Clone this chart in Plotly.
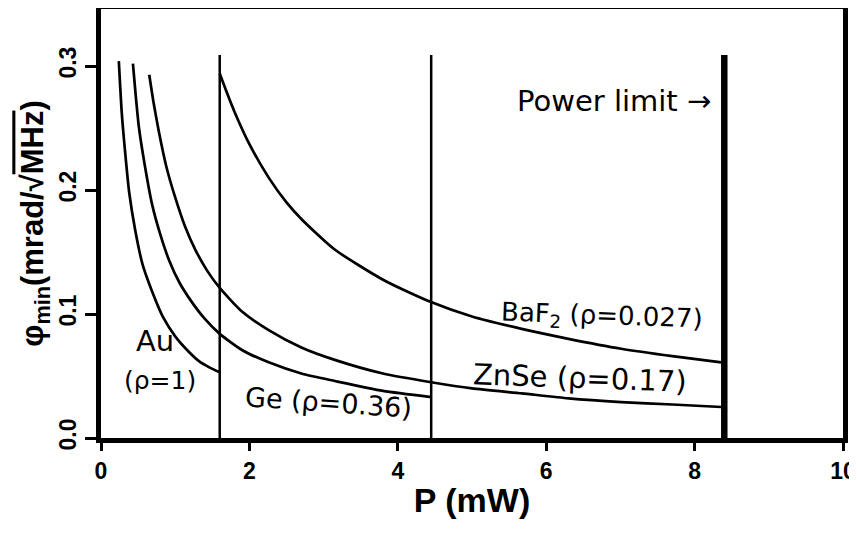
import plotly.graph_objects as go

# ---- data ----
au_x = [0.24, 0.28, 0.32, 0.38, 0.46, 0.56, 0.69, 0.84, 1.00, 1.16, 1.32, 1.46, 1.60]
au_y = [0.304, 0.262, 0.234, 0.198, 0.168, 0.140, 0.118, 0.097, 0.082, 0.071, 0.062, 0.057, 0.053]

ge_x = [0.43, 0.47, 0.51, 0.59, 0.69, 0.80, 0.92, 1.06, 1.22, 1.40, 1.60, 1.90, 2.26, 2.70, 3.15, 3.80, 4.45]
ge_y = [0.302, 0.275, 0.251, 0.220, 0.188, 0.164, 0.143, 0.125, 0.110, 0.096, 0.084, 0.071, 0.061, 0.052, 0.046, 0.038, 0.033]

znse_x = [0.65, 0.71, 0.78, 0.88, 1.00, 1.13, 1.27, 1.43, 1.60, 1.90, 2.26, 2.70, 3.15, 3.80, 4.45, 5.00, 5.67, 6.30, 7.01, 7.70, 8.36]
znse_y = [0.293, 0.270, 0.247, 0.219, 0.194, 0.171, 0.152, 0.135, 0.121, 0.102, 0.087, 0.073, 0.063, 0.052, 0.045, 0.040, 0.036, 0.032, 0.029, 0.027, 0.025]

baf2_x = [1.60, 1.70, 1.80, 2.00, 2.26, 2.50, 2.71, 3.15, 3.82, 4.43, 5.00, 5.67, 6.30, 7.01, 7.70, 8.36]
baf2_y = [0.294, 0.278, 0.263, 0.237, 0.210, 0.190, 0.176, 0.152, 0.127, 0.110, 0.098, 0.088, 0.080, 0.072, 0.066, 0.061]

cutoff_x = [1.6, 4.45]
power_limit_x = 8.4
line_top = 0.309

x_ticks = [0, 2, 4, 6, 8, 10]
y_ticks = [0.0, 0.1, 0.2, 0.3]

HAND = "DejaVu Sans"

fig = go.Figure()
for xs, ys in [(au_x, au_y), (ge_x, ge_y), (znse_x, znse_y), (baf2_x, baf2_y)]:
    fig.add_trace(go.Scatter(x=xs, y=ys, mode="lines",
                             line=dict(color="black", width=2.7, shape="spline", smoothing=0.6),
                             showlegend=False, hoverinfo="skip"))
for cx in cutoff_x:
    fig.add_trace(go.Scatter(x=[cx, cx], y=[0, line_top], mode="lines",
                             line=dict(color="black", width=2.5), showlegend=False))
fig.add_trace(go.Scatter(x=[power_limit_x, power_limit_x], y=[0, line_top], mode="lines",
                         line=dict(color="black", width=6.5), showlegend=False))

annos = [
    dict(x=0.73, y=0.078, text="Au", size=29),
    dict(x=0.80, y=0.046, text="(ρ=1)", size=25),
    dict(x=3.07, y=0.029, text="Ge (ρ=0.36)", size=27, textangle=4),
    dict(x=6.75, y=0.098, text="BaF<sub>2</sub> (ρ=0.027)", size=26, textangle=2),
    dict(x=6.46, y=0.048, text="ZnSe (ρ=0.17)", size=29, textangle=2),
    dict(x=6.92, y=0.272, text="Power limit →", size=29),
]
for a in annos:
    size = a.pop("size")
    fig.add_annotation(showarrow=False, font=dict(family=HAND, size=size, color="black"),
                       xref="x", yref="y", **a)

fig.update_layout(
    width=857, height=554,
    margin=dict(l=93, r=22, t=1, b=124),
    paper_bgcolor="white", plot_bgcolor="white",
    xaxis=dict(range=[0, 10], tickvals=x_ticks, ticktext=[str(v) for v in x_ticks],
               showgrid=False, zeroline=False, automargin=False,
               showline=True, linecolor="black", linewidth=5, mirror=True,
               ticks="outside", ticklen=8, tickwidth=2.5, tickcolor="black",
               tickfont=dict(family="Liberation Sans", size=23, color="black", weight="bold"),
               title=dict(text="<b>P (mW)</b>", standoff=7,
                          font=dict(family="Liberation Sans", size=34, color="black"))),
    yaxis=dict(range=[0, 0.346], tickvals=y_ticks, ticktext=[f"{v:.1f}" for v in y_ticks],
               showgrid=False, zeroline=False, automargin=False,
               showline=True, linecolor="black", linewidth=5, mirror=True,
               ticks="outside", ticklen=11, tickwidth=2.5, tickcolor="black", tickangle=-90,
               tickfont=dict(family="Liberation Sans", size=23, color="black", weight="bold"),
               title=dict(text="<b>φ<sub>min</sub>(mrad/√<span style='text-decoration:overline'>MHz</span>)</b>",
                          standoff=2,
                          font=dict(family="Liberation Sans", size=31, color="black"))),
)

fig.write_html("out.html")
